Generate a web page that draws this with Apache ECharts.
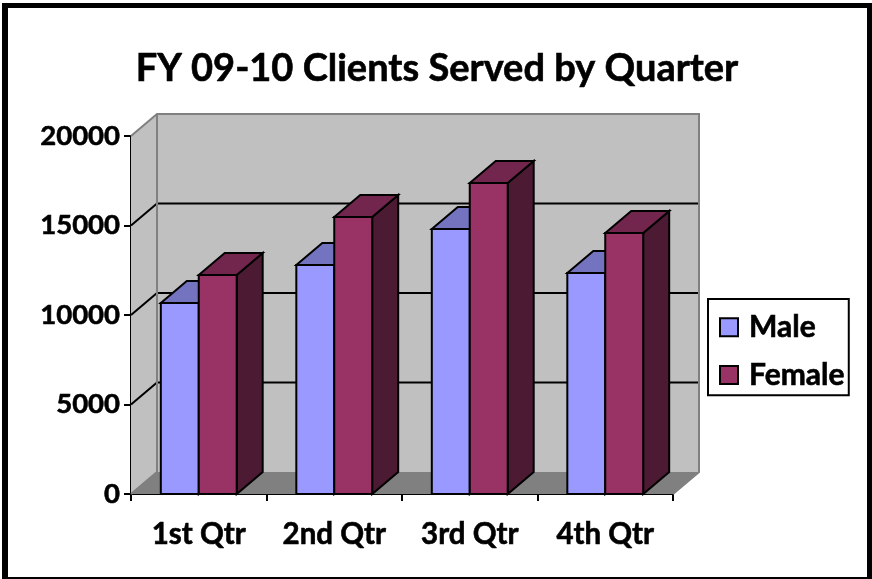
<!DOCTYPE html>
<html>
<head>
<meta charset="utf-8">
<style>html,body{margin:0;padding:0;background:#fff}#c{width:872px;height:579px}</style>
<script src="https://cdn.jsdelivr.net/npm/echarts@6/dist/echarts.min.js"></script>
</head>
<body>
<div id="c"></div>
<script>
const categories = ['1st Qtr', '2nd Qtr', '3rd Qtr', '4th Qtr'];
const maleValues = [10670, 12790, 14800, 12350];
const femaleValues = [12235, 15475, 17375, 14580];
const yTicks = [0, 5000, 10000, 15000, 20000];

const FONT = 'Lato';
const DX = 26, DY = -22;
const BAR_RATIO = 0.28;
const line = {stroke: '#000', lineWidth: 2};
const heavy = {color: '#000', fontFamily: FONT, fontWeight: 'bold', textBorderColor: '#000', textBorderWidth: 0.6};

function poly(points, fill, style) {
  return {type: 'polygon', shape: {points}, style: Object.assign({fill}, style || {})};
}

function renderWalls(params, api) {
  const size = api.size([1, 0])[0];
  const left = api.coord([0, 0])[0] - size / 2;
  const right = left + size * categories.length;
  const y0 = api.coord([0, 0])[1];
  const yMax = api.coord([0, yTicks[yTicks.length - 1]])[1];
  const grey = '#c0c0c0', dark = '#808080';
  const edge = {stroke: dark, lineWidth: 2};
  const children = [
    poly([[left, yMax], [left + DX, yMax + DY], [left + DX, y0 + DY], [left, y0]], grey),
    poly([[left + DX, yMax + DY], [right + DX, yMax + DY], [right + DX, y0 + DY], [left + DX, y0 + DY]], grey),
    poly([[left, y0], [left + DX, y0 + DY], [right + DX, y0 + DY], [right, y0]], dark)
  ];
  yTicks.slice(1, -1).forEach(function (t) {
    const y = api.coord([0, t])[1];
    children.push({type: 'polyline', shape: {points: [[left, y], [left + DX, y + DY], [right + DX, y + DY]]}, style: {fill: 'none', stroke: '#000', lineWidth: 2}});
  });
  children.push({type: 'polyline', shape: {points: [[left, yMax], [left + DX, yMax + DY], [right + DX, yMax + DY], [right + DX, y0 + DY], [right, y0]]}, style: Object.assign({fill: 'none'}, edge)});
  children.push({type: 'polyline', shape: {points: [[left + DX, yMax + DY], [left + DX, y0 + DY], [left, y0]]}, style: Object.assign({fill: 'none'}, edge)});
  return {type: 'group', children};
}

function barRenderer(seriesOffset, front, top, side) {
  return function (params, api) {
    const p = api.coord([api.value(0), api.value(1)]);
    const base = api.coord([api.value(0), 0])[1];
    const bw = api.size([1, 0])[0] * BAR_RATIO;
    const x0 = p[0] + seriesOffset * bw, x1 = x0 + bw, y = p[1];
    return {type: 'group', children: [
      poly([[x1, y], [x1 + DX, y + DY], [x1 + DX, base + DY], [x1, base]], side, line),
      poly([[x0, y], [x0 + DX, y + DY], [x1 + DX, y + DY], [x1, y]], top, line),
      poly([[x0, y], [x1, y], [x1, base], [x0, base]], front, line)
    ]};
  };
}

const toPairs = arr => arr.map((v, i) => [i, v]);
const frameBar = (x, y, width, height) => ({
  type: 'rect', z: 100, silent: true,
  shape: {x, y, width, height},
  style: {fill: '#000'}
});

const chart = echarts.init(document.getElementById('c'), null, {renderer: 'canvas'});
chart.setOption({
  animation: false,
  backgroundColor: '#fff',
  textStyle: {fontFamily: FONT},
  title: {
    text: 'FY 09-10 Clients Served by Quarter',
    left: 432, top: 45, textAlign: 'center',
    textStyle: Object.assign({}, heavy, {fontSize: 38})
  },
  grid: {left: 131, right: 199, top: 136, bottom: 85},
  xAxis: {
    type: 'category', data: categories,
    axisLine: {onZero: false, lineStyle: {color: '#000', width: 2}},
    axisTick: {show: true, alignWithLabel: false, interval: 0, length: 7, lineStyle: {color: '#000', width: 2}},
    axisLabel: Object.assign({}, heavy, {fontSize: 29.5, margin: 25})
  },
  yAxis: {
    type: 'value', min: 0, max: 20000, interval: 5000,
    splitLine: {show: false},
    axisLine: {show: true, lineStyle: {color: '#000', width: 2}},
    axisTick: {show: true, length: 7, lineStyle: {color: '#000', width: 2}},
    axisLabel: Object.assign({}, heavy, {fontSize: 27.5, margin: 11, formatter: v => String(v)})
  },
  legend: {
    data: ['Male', 'Female'],
    orient: 'vertical', left: 708, top: 299,
    padding: [13, 4, 5, 11],
    itemGap: 17,
    itemWidth: 18, itemHeight: 18,
    icon: 'rect',
    borderColor: '#000', borderWidth: 2,
    backgroundColor: '#fff',
    textStyle: Object.assign({}, heavy, {fontSize: 30, padding: [0, 0, 0, 6]}),
    selectedMode: false
  },
  series: [
    {type: 'custom', silent: true, renderItem: renderWalls, data: [[0, 0]], encode: {x: 0, y: 1}, z: 1},
    {type: 'custom', name: 'Male', silent: true, data: toPairs(maleValues), encode: {x: 0, y: 1}, z: 2,
      itemStyle: {color: '#9999ff', borderColor: '#000', borderWidth: 2},
      renderItem: barRenderer(-1, '#9999ff', '#7373bf', '#4d4d80')},
    {type: 'custom', name: 'Female', silent: true, data: toPairs(femaleValues), encode: {x: 0, y: 1}, z: 3,
      itemStyle: {color: '#993366', borderColor: '#000', borderWidth: 2},
      renderItem: barRenderer(0, '#993366', '#73264d', '#4d1a33')}
  ],
  graphic: [
    frameBar(2, 3, 868, 5),
    frameBar(2, 3, 6, 576),
    frameBar(867, 3, 5, 576),
    frameBar(2, 577, 870, 2)
  ]
});
</script>
</body>
</html>
